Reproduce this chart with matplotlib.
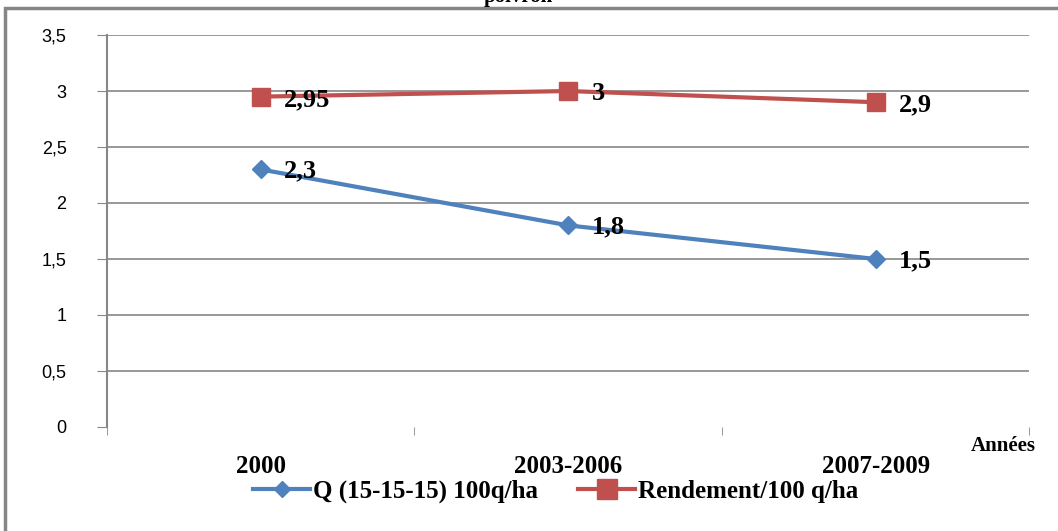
import matplotlib.pyplot as plt
from matplotlib.ticker import FixedLocator, FuncFormatter
from matplotlib.lines import Line2D

# données
periodes = ['2000', '2003-2006', '2007-2009']
q_engrais = [2.3, 1.8, 1.5]
rendement = [2.95, 3.0, 2.9]
y_ticks = [0, 0.5, 1, 1.5, 2, 2.5, 3, 3.5]

bleu = '#4F81BD'
rouge = '#C0504D'
gris = '#868686'
serif = 'Liberation Serif'

fig = plt.figure(figsize=(10.58, 5.31), dpi=100)
ax = fig.add_axes([0.101, 0.196, 0.872, 0.738])

x = list(range(len(periodes)))
ax.plot(x, q_engrais, color=bleu, lw=3, marker='D', markersize=9, zorder=3)
ax.plot(x, rendement, color=rouge, lw=3, marker='s', markersize=13, zorder=3)

# étiquettes de données
for xi, v in zip(x, q_engrais):
    ax.annotate(f'{v:g}'.replace('.', ','), (xi, v), xytext=(17, -1), textcoords='offset points',
                va='center', ha='left', fontsize=19, fontweight='bold', family=serif)
for xi, v in zip(x, rendement):
    ax.annotate(f'{v:g}'.replace('.', ','), (xi, v), xytext=(17, -2), textcoords='offset points',
                va='center', ha='left', fontsize=19, fontweight='bold', family=serif)

ax.set_xlim(-0.5, len(periodes) - 0.5)
ax.set_ylim(0, 3.5)

ax.yaxis.set_major_locator(FixedLocator(y_ticks))
ax.yaxis.set_major_formatter(FuncFormatter(lambda v, p: f'{v:g}'.replace('.', ',')))
ax.tick_params(axis='y', length=7, color=gris, labelsize=13, pad=22)
for lbl in ax.get_yticklabels():
    lbl.set_family('Liberation Sans')

ax.set_xticks(x)
ax.set_xticklabels(periodes, fontsize=18, fontweight='bold', family=serif)
ax.set_xticks([-0.5, 0.5, 1.5, 2.5], minor=True)
ax.tick_params(axis='x', which='major', length=0, pad=20)
ax.tick_params(axis='x', which='minor', length=6, color=gris, direction='out')

for t in y_ticks[1:]:
    ax.axhline(t, color=gris, lw=1.2, zorder=1)

for s in ['top', 'right', 'bottom']:
    ax.spines[s].set_visible(False)
ax.spines['left'].set_color(gris)
ax.spines['left'].set_linewidth(1.5)
ax.spines['left'].set_bounds(0, 3.5)

ax.text(1.007, -0.022, 'Années', transform=ax.transAxes, ha='right', va='top',
        fontsize=15, fontweight='bold', family=serif)

fig.text(0.49, 1.005, 'poivron', ha='center', va='center', fontsize=15,
         fontweight='bold', family=serif)

handles = [Line2D([], [], color=bleu, lw=3, marker='D', markersize=8),
           Line2D([], [], color=rouge, lw=3, marker='s', markersize=14)]
fig.legend(handles, ['Q (15-15-15) 100q/ha', 'Rendement/100 q/ha'],
           loc='center', bbox_to_anchor=(0.525, 0.074), ncol=2, frameon=False,
           prop={'family': serif, 'weight': 'bold', 'size': 18},
           handlelength=2.3, handletextpad=0.1, columnspacing=1.6)

# cadre du graphique
fig.add_artist(plt.Rectangle((0.005, -0.05), 1.2, 1.035, transform=fig.transFigure,
                             fill=False, edgecolor=gris, lw=2.5))

fig.savefig('out.png', dpi=100)
